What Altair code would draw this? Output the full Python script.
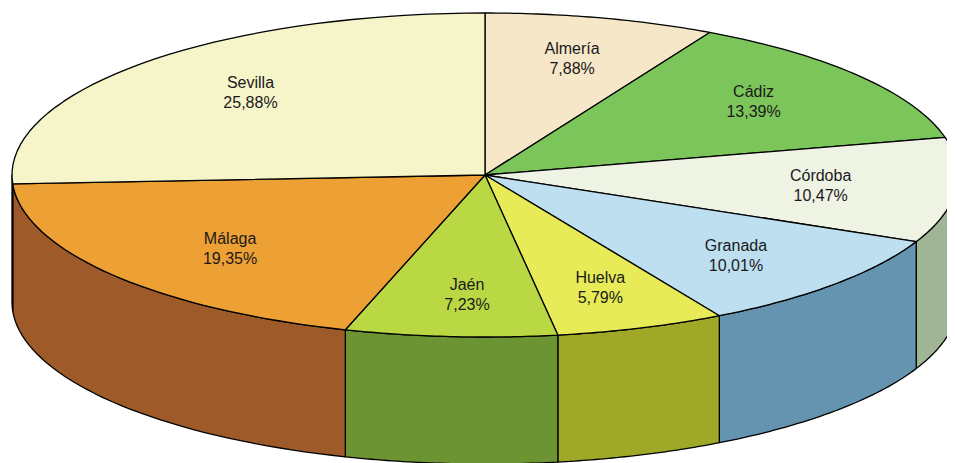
import altair as alt
import pandas as pd

names = ["Almería", "Cádiz", "Córdoba", "Granada", "Huelva", "Jaén", "Málaga", "Sevilla"]
pcts = [7.88, 13.39, 10.47, 10.01, 5.79, 7.23, 19.35, 25.88]
top_colors = ["#F6E7C9", "#7CC55A", "#EEF3E4", "#BEDFEF", "#E6EB57", "#BAD844", "#EDA033", "#F6F4C9"]
side_colors = ["#C9BC9E", "#5E9A44", "#A0B596", "#6594B0", "#A0A927", "#6D9432", "#9E5B29", "#C4C192"]

df = pd.DataFrame({
    "idx": list(range(len(names))),
    "name": names,
    "pct": pcts,
    "top": top_colors,
    "side": side_colors,
})

W, H = 939, 455
CX, CY, RX, RY, D = 477, 167, 473, 162, 127
LFX, LFY, LDX, LDY = 0.70, 0.74, 6, -10

xs = alt.Scale(domain=[0, W])
ys = alt.Scale(domain=[0, H], reverse=True)

base = alt.Chart(df).transform_window(
    cum="sum(pct)", sort=[alt.SortField("idx")], frame=[None, 0]
).transform_calculate(
    a0="90 - (datum.cum - datum.pct) * 3.6",
    a1="90 - datum.cum * 3.6",
)

top = base.transform_calculate(
    k="sequence(0, 43)"
).transform_flatten(["k"]).transform_calculate(
    t="datum.k <= 40 ? datum.a0 + (datum.a1 - datum.a0) * datum.k / 40 : datum.a0",
).transform_calculate(
    px=f"datum.k == 41 ? {CX} : {CX} + {RX} * cos(datum.t * PI / 180)",
    py=f"datum.k == 41 ? {CY} : {CY} - {RY} * sin(datum.t * PI / 180)",
).mark_line(filled=True, stroke="black", strokeWidth=1.3, strokeJoin="round").encode(
    x=alt.X("px:Q", scale=xs, axis=None),
    y=alt.Y("py:Q", scale=ys, axis=None),
    order="k:Q",
    color=alt.Color("top:N", scale=None),
    detail="name:N",
)

side = base.transform_calculate(
    lo="max(datum.a1, -180)",
    hi="min(datum.a0, 0)",
).transform_filter("datum.lo < datum.hi").transform_calculate(
    k="sequence(0, 83)"
).transform_flatten(["k"]).transform_calculate(
    t="datum.k <= 40 ? datum.hi + (datum.lo - datum.hi) * datum.k / 40 : (datum.k <= 81 ? datum.lo + (datum.hi - datum.lo) * (datum.k - 41) / 40 : datum.hi)",
    dy=f"(datum.k >= 41 && datum.k <= 81) ? {D} : 0",
).transform_calculate(
    px=f"{CX} + {RX} * cos(datum.t * PI / 180)",
    py=f"{CY} - {RY} * sin(datum.t * PI / 180) + datum.dy",
).mark_line(filled=True, stroke="black", strokeWidth=1.3, strokeJoin="round").encode(
    x=alt.X("px:Q", scale=xs, axis=None),
    y=alt.Y("py:Q", scale=ys, axis=None),
    order="k:Q",
    color=alt.Color("side:N", scale=None),
    detail="name:N",
)

labels = base.transform_calculate(
    mid="(datum.a0 + datum.a1) / 2",
).transform_calculate(
    px=f"{CX + LDX} + {LFX} * {RX} * cos(datum.mid * PI / 180)",
    py=f"{CY + LDY} - {LFY} * {RY} * sin(datum.mid * PI / 180)",
    label="datum.name + '\\n' + replace(format(datum.pct, '.2f'), '.', ',') + '%'",
).mark_text(
    lineBreak="\n", fontSize=16, font="Liberation Sans", color="#1a1a1a",
    lineHeight=20, align="center", baseline="middle"
).encode(
    x=alt.X("px:Q", scale=xs, axis=None),
    y=alt.Y("py:Q", scale=ys, axis=None),
    text="label:N",
)

chart = alt.layer(side, top, labels).properties(
    width=W, height=H, padding=0, autosize="none", background="white"
).configure_view(stroke=None)

chart.save("out.html", embed_options={"renderer": "svg", "actions": False})
